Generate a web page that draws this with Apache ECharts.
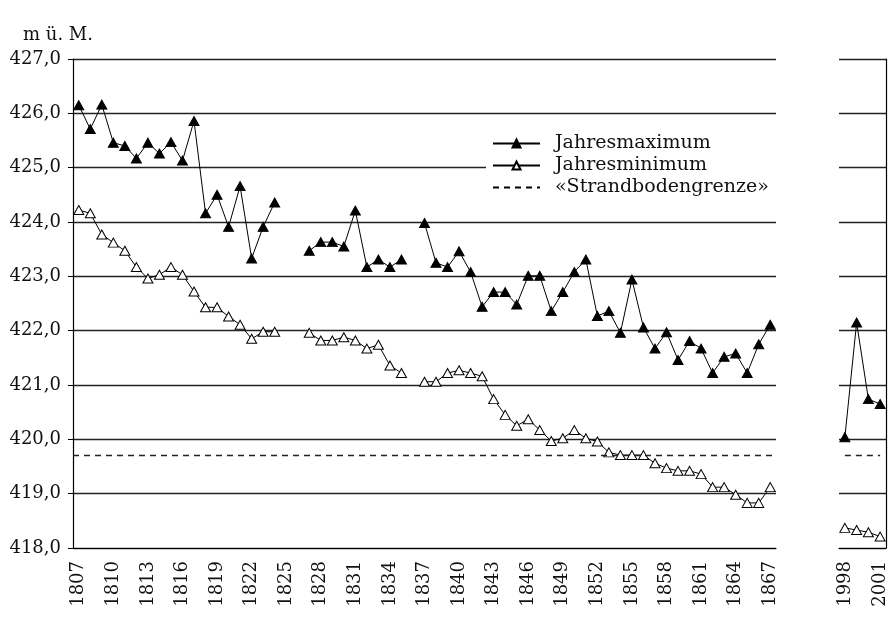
<!DOCTYPE html>
<html>
<head>
<meta charset="utf-8">
<script src="https://cdn.jsdelivr.net/npm/echarts@6/dist/echarts.min.js"></script>
<style>
  html, body { margin: 0; padding: 0; background: #fff; }
  #chart { width: 890px; height: 628px; }
</style>
</head>
<body>
<div id="chart"></div>
<script>
// Jahre, Hauptteil
const years1 = ['1807','1808','1809','1810','1811','1812','1813','1814','1815','1816',
  '1817','1818','1819','1820','1821','1822','1823','1824','1825','1826',
  '1827','1828','1829','1830','1831','1832','1833','1834','1835','1836',
  '1837','1838','1839','1840','1841','1842','1843','1844','1845','1846',
  '1847','1848','1849','1850','1851','1852','1853','1854','1855','1856',
  '1857','1858','1859','1860','1861','1862','1863','1864','1865','1866','1867'];
const years2 = ['1998','1999','2000','2001'];

// Jahresmaximum 1807-1867 (null = keine Messung)
const max1 = [426.15,425.71,426.16,425.46,425.40,425.17,425.46,425.26,425.47,425.13,
  425.86,424.16,424.50,423.91,424.66,423.33,423.91,424.36,null,null,
  423.47,423.63,423.63,423.55,424.21,423.17,423.31,423.17,423.31,null,
  423.98,423.25,423.17,423.46,423.08,422.44,422.71,422.71,422.48,423.01,
  423.01,422.36,422.71,423.08,423.31,422.27,422.36,421.96,422.94,422.06,
  421.67,421.97,421.46,421.81,421.67,421.22,421.52,421.58,421.22,421.75,422.11];

// Jahresminimum 1807-1867
const min1 = [424.22,424.16,423.77,423.62,423.47,423.17,422.96,423.03,423.17,423.03,
  422.72,422.43,422.43,422.26,422.11,421.85,421.98,421.98,null,null,
  421.96,421.82,421.82,421.88,421.82,421.67,421.74,421.36,421.22,null,
  421.06,421.06,421.22,421.27,421.22,421.16,420.74,420.45,420.25,420.37,
  420.17,419.97,420.02,420.17,420.02,419.96,419.76,419.71,419.71,419.71,
  419.56,419.47,419.42,419.42,419.36,419.12,419.12,418.98,418.83,418.83,419.12];

// 1998-2001
const max2 = [420.04, 422.15, 420.74, 420.65];
const min2 = [418.37, 418.33, 418.29, 418.21];

const strandGrenze = 419.7;

const FONT = 'DejaVu Serif';

const chart = echarts.init(document.getElementById('chart'), null, { renderer: 'canvas' });

function xAxisCfg(idx, data) {
  return {
    type: 'category',
    gridIndex: idx,
    data: data,
    boundaryGap: true,
    axisLine: { lineStyle: { color: '#000', width: 1.2 } },
    axisTick: { interval: 0, length: 5, lineStyle: { color: '#000' } },
    axisLabel: {
      interval: 2,
      rotate: 90,
      margin: 13,
      color: '#111',
      fontFamily: FONT,
      fontSize: 18
    },
    splitLine: { show: false }
  };
}

function yAxisCfg(idx, right) {
  return {
    type: 'value',
    gridIndex: idx,
    position: right ? 'right' : 'left',
    min: 418,
    max: 427,
    interval: 1,
    axisLine: { show: true, lineStyle: { color: '#000', width: 1.2 } },
    axisTick: { show: !right, length: 5, lineStyle: { color: '#000' } },
    axisLabel: {
      show: !right,
      margin: 12,
      color: '#111',
      fontFamily: FONT,
      fontSize: 18,
      formatter: function (v) { return v.toFixed(1).replace('.', ','); }
    },
    splitLine: { show: true, lineStyle: { color: '#222', width: 1.3 } }
  };
}

const triFilled = { color: '#000', borderColor: '#000', borderWidth: 1 };
const triHollow = { color: '#fff', borderColor: '#000', borderWidth: 1 };

const option = {
  backgroundColor: '#fff',
  animation: false,
  title: {
    text: 'm ü. M.',
    left: 18,
    top: 21,
    textStyle: { fontFamily: FONT, fontSize: 18, fontWeight: 'normal', color: '#111' }
  },
  grid: [
    { left: 73, top: 59, width: 703, height: 489 },
    { left: 839, top: 59, width: 47, height: 489 }
  ],
  xAxis: [xAxisCfg(0, years1), xAxisCfg(1, years2)],
  yAxis: [yAxisCfg(0, false), yAxisCfg(1, true)],
  legend: {
    orient: 'vertical',
    left: 486,
    top: 132,
    padding: [2, 12, 4, 6],
    backgroundColor: '#fff',
    itemWidth: 47,
    itemHeight: 10,
    itemGap: 3,
    textStyle: { fontFamily: FONT, fontSize: 19, color: '#111', padding: [0, 0, 0, 10] },
    data: [
      'Jahresmaximum',
      'Jahresminimum',
      { name: '«Strandbodengrenze»', itemStyle: { opacity: 0 } }
    ]
  },
  series: [
    {
      name: 'Jahresmaximum', type: 'line', xAxisIndex: 0, yAxisIndex: 0,
      data: max1, symbol: 'triangle', symbolSize: [10, 9], showAllSymbol: true,
      lineStyle: { color: '#000', width: 1 }, itemStyle: triFilled, z: 3
    },
    {
      name: 'Jahresminimum', type: 'line', xAxisIndex: 0, yAxisIndex: 0,
      data: min1, symbol: 'triangle', symbolSize: [10, 9], showAllSymbol: true,
      lineStyle: { color: '#000', width: 1 }, itemStyle: triHollow, z: 3
    },
    {
      name: 'Jahresmaximum', type: 'line', xAxisIndex: 1, yAxisIndex: 1,
      data: max2, symbol: 'triangle', symbolSize: [10, 9], showAllSymbol: true,
      lineStyle: { color: '#000', width: 1 }, itemStyle: triFilled, z: 3
    },
    {
      name: 'Jahresminimum', type: 'line', xAxisIndex: 1, yAxisIndex: 1,
      data: min2, symbol: 'triangle', symbolSize: [10, 9], showAllSymbol: true,
      lineStyle: { color: '#000', width: 1 }, itemStyle: triHollow, z: 3
    },
    {
      name: '«Strandbodengrenze»', type: 'line', xAxisIndex: 0, yAxisIndex: 0,
      data: [], symbol: 'none',
      lineStyle: { color: '#000', width: 1.3, type: [6, 5] },
      itemStyle: { color: '#000' },
      markLine: {
        silent: true, symbol: 'none', label: { show: false },
        lineStyle: { color: '#222', width: 1.3, type: [6, 5] },
        data: [{ yAxis: strandGrenze }]
      }
    },
    {
      name: '«Strandbodengrenze»', type: 'line', xAxisIndex: 1, yAxisIndex: 1,
      data: [], symbol: 'none',
      lineStyle: { color: '#000', width: 1.3, type: [6, 5] },
      markLine: {
        silent: true, symbol: 'none', label: { show: false },
        lineStyle: { color: '#222', width: 1.3, type: [6, 5] },
        data: [[{ xAxis: years2[0], yAxis: strandGrenze }, { xAxis: years2[3], yAxis: strandGrenze }]]
      }
    }
  ]
};

chart.setOption(option);
</script>
</body>
</html>
